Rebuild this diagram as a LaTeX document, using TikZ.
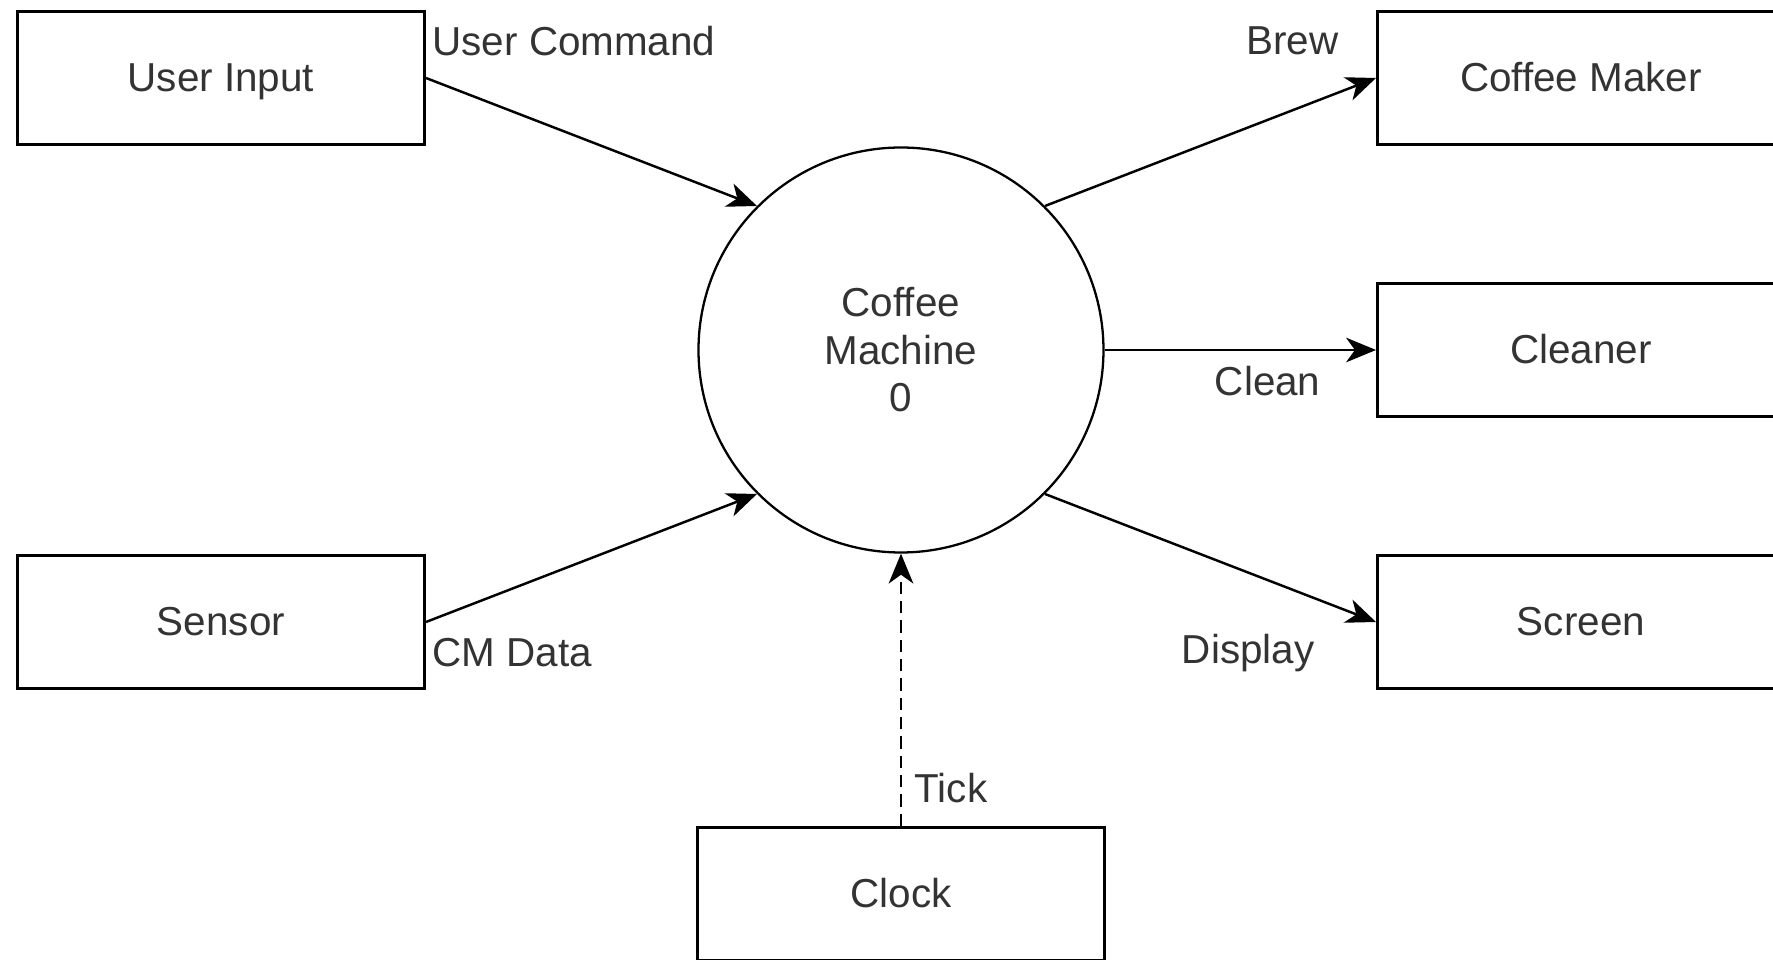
\documentclass[tikz,border=0pt]{standalone}
\usepackage{fontspec}
\setmainfont{Liberation Sans}
\usepackage{tikz}
\usetikzlibrary{arrows.meta}

\begin{document}
\begin{tikzpicture}[
    >={Stealth[length=17pt,width=14pt,inset=5pt]},
    node distance=1cm,
    every node/.style={font=\fontsize{23}{27}\selectfont, text=black!80},
    entity/.style={draw, line width=1.7pt, minimum width=8.14cm, minimum height=2.66cm,
      text height=15.5pt, text depth=0pt},
    proc/.style={draw, circle, line width=1.3pt, minimum size=8.1cm, align=center},
    flow/.style={->, line width=1.4pt},
    lbl/.style={inner sep=3pt}
  ]
      \clip (-18.02,-12.2) rectangle (17.44,7);

      \node [proc] (cm) {Coffee\\Machine\\0};
      \node [entity, right of=cm, xshift=12.6cm] (cleaner) {Cleaner};
      \node [entity, above of=cleaner, yshift=4.44cm] (maker) {Coffee Maker};
      \node [entity, below of=cleaner, yshift=-4.44cm] (screen) {Screen};
      \node [entity, left of=maker, xshift=-26.2cm] (input) {User Input};
      \node [entity, below of=input, yshift=-9.88cm] (sensor) {Sensor};
      \node [entity, below of=cm, yshift=-9.88cm] (clock) {Clock};

      \draw[flow] (input.east) -- (cm.135)
        node[lbl, pos=0, anchor=west, yshift=0.74cm] {User Command};
      \draw[flow] (sensor.east) -- (cm.225)
        node[lbl, pos=0, anchor=west, yshift=-0.62cm] {CM Data};
      \draw[flow] (cm.45) -- (maker.west)
        node[lbl, pos=1, anchor=east, xshift=-0.62cm, yshift=0.74cm] {Brew};
      \draw[flow] (cm.east) -- (cleaner.west)
        node[lbl, pos=1, anchor=east, xshift=-0.98cm, yshift=-0.62cm] {Clean};
      \draw[flow] (cm.315) -- (screen.west)
        node[lbl, pos=1, anchor=east, xshift=-1.1cm, yshift=-0.62cm] {Display};
      \draw[flow, line width=1.6pt, dash pattern=on 7pt off 4pt] (clock.north) -- (cm.south)
        node[lbl, pos=0, anchor=west, xshift=0.14cm, yshift=0.76cm] {Tick};
    \end{tikzpicture}
\end{document}
